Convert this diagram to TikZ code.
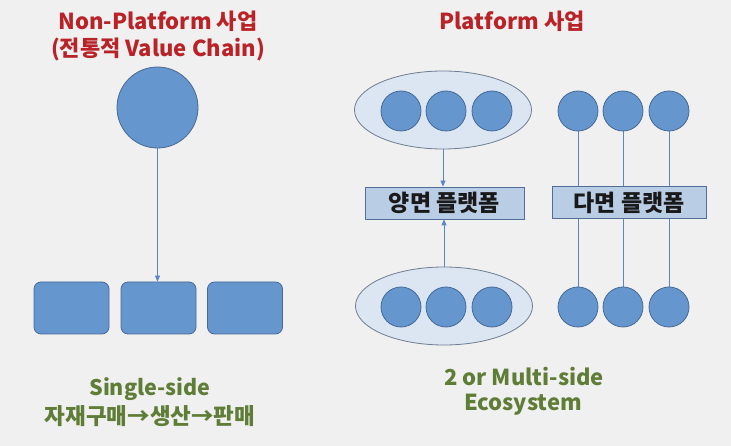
\documentclass[tikz,border=0pt]{standalone}
\usepackage{fontspec}
\setmainfont{Noto Sans CJK KR}
\usetikzlibrary{shapes.geometric,arrows.meta}
\definecolor{bgc}{RGB}{240,240,240}
\definecolor{ballfill}{RGB}{101,150,205}
\definecolor{ballline}{RGB}{70,105,150}
\definecolor{ellfill}{RGB}{220,230,242}
\definecolor{ellline}{RGB}{110,125,145}
\definecolor{boxfill}{RGB}{185,205,229}
\definecolor{boxline}{RGB}{80,110,150}
\definecolor{linec}{RGB}{90,135,195}
\definecolor{titlered}{RGB}{185,35,40}
\definecolor{txtgreen}{RGB}{95,125,55}
\definecolor{txtdark}{RGB}{25,25,25}
\pgfdeclarelayer{bg}
\pgfsetlayers{bg,main}
\tikzset{
  ball/.style={circle, draw=ballline, fill=ballfill, line width=0.8pt, minimum size=40pt, inner sep=0pt},
  bigball/.style={ball, minimum size=81pt},
  rbox/.style={rectangle, rounded corners=7pt, draw=ballline, fill=ballfill, line width=0.8pt, minimum width=75pt, minimum height=52pt, inner sep=0pt},
  group/.style={ellipse, draw=ellline, fill=ellfill, line width=0.8pt, minimum width=177pt, minimum height=78pt, inner sep=0pt},
  plat/.style={rectangle, draw=boxline, fill=boxfill, line width=0.8pt, minimum height=32pt, inner sep=0pt, font=\bfseries\fontsize{23}{24}\selectfont, text=txtdark},
  conn/.style={draw=linec, line width=0.8pt},
  arr/.style={conn, -{Triangle[length=6pt,width=5pt]}},
  title/.style={font=\bfseries\fontsize{22}{23}\selectfont, text=titlered, inner sep=0pt, anchor=base},
  gtext/.style={font=\bfseries\fontsize{21.5}{22}\selectfont, text=txtgreen, inner sep=0pt, anchor=base},
  gkor/.style={gtext, font=\bfseries\fontsize{22.5}{23}\selectfont},
  gbig/.style={gtext, font=\bfseries\fontsize{22}{23}\selectfont}
}
\begin{document}
\begin{tikzpicture}[x=1pt,y=-1pt]
\begin{pgfonlayer}{bg}
\fill[bgc] (0,0) rectangle (731,446);
\end{pgfonlayer}
\useasboundingbox (0,0) rectangle (731,446);

% titles
\node[title] (t1) at (158,30) {Non-Platform 사업};
\node[title] (t2) at (158,57) {(전통적 Value Chain)};
\node[title] (t3) at (512,30) {Platform 사업};

% left: single side
\node[bigball] (big) at (157.5,107.5) {};
\node[rbox] (r1) at (71.5,308) {};
\node[rbox] (r2) at (158.5,308) {};
\node[rbox] (r3) at (245,308) {};
\draw[arr] (big.south) -- (big.south |- r2.north);

\node[gtext] (g1) at (150,395) {Single-side};
\node[gkor] (g2) at (150,424) {자재구매→생산→판매};

% middle: two-sided
\node[group] (e1) at (443,110) {};
\node[ball] (a1) at (401,111) {};
\node[ball] (a2) at (446,111) {};
\node[ball] (a3) at (492,111) {};
\node[group] (e2) at (444,306) {};
\node[ball] (b1) at (401,307) {};
\node[ball] (b2) at (446,307) {};
\node[ball] (b3) at (492,307) {};
\node[plat, minimum width=159pt] (p1) at (444.5,203) {양면 플랫폼};
\draw[arr] (e1.south) -- (e1.south |- p1.north);
\draw[arr] (e2.north) -- (e2.north |- p1.south);

% right: multi-sided
\node[ball] (c1) at (578,111) {};
\node[ball] (c2) at (623,111) {};
\node[ball] (c3) at (669,111) {};
\node[ball] (d1) at (578,307) {};
\node[ball] (d2) at (623,307) {};
\node[ball] (d3) at (669,307) {};
\node[plat, minimum width=154pt] (p2) at (629,202.5) {다면 플랫폼};
\begin{pgfonlayer}{bg}
\draw[conn] (c1.south) -- (d1.north);
\draw[conn] (c2.south) -- (d2.north);
\draw[conn] (c3.south) -- (d3.north);
\end{pgfonlayer}

\node[gbig] (g3) at (524,385) {2 or Multi-side};
\node[gbig] (g4) at (523,410) {Ecosystem};
\end{tikzpicture}
\end{document}
